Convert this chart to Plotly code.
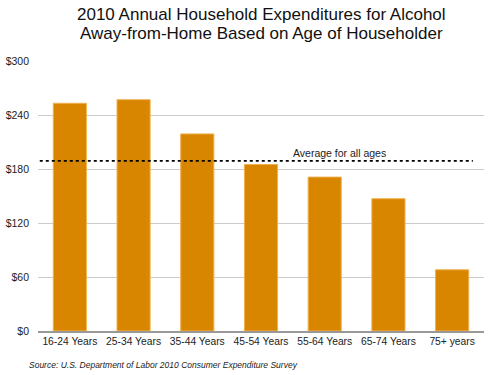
import plotly.graph_objects as go

categories = ["16-24 Years", "25-34 Years", "35-44 Years", "45-54 Years",
              "55-64 Years", "65-74 Years", "75+ years"]
values = [253, 257, 219, 185, 171, 147, 68]
average_all = 189
tick_vals = [0, 60, 120, 180, 240, 300]
tick_text = ["$0", "$60", "$120", "$180", "$240", "$300"]
title_lines = ["2010 Annual Household Expenditures for Alcohol",
               "Away-from-Home Based on Age of Householder"]

fig = go.Figure()
fig.add_trace(go.Bar(
    x=categories, y=values,
    marker=dict(color="#D88600", line=dict(color="#F0B050", width=1)),
    width=0.52,
))
fig.add_shape(type="line", xref="paper", yref="y", x0=0.004, x1=0.975,
              y0=average_all, y1=average_all,
              line=dict(color="black", width=1.6, dash="dot"))
fig.add_annotation(text="Average for all ages", xref="paper", yref="y",
                   x=0.677, y=average_all, yshift=8, showarrow=False,
                   xanchor="center", yanchor="middle",
                   font=dict(size=10.5, color="#222"))
fig.add_annotation(text="<i>Source: U.S. Department of Labor 2010 Consumer Expenditure Survey</i>",
                   xref="paper", yref="paper", x=-0.025, y=-0.1,
                   xanchor="left", yanchor="top", showarrow=False,
                   font=dict(size=8.5, color="#222"))
for line, ypos in zip(title_lines, [1.174, 1.1]):
    fig.add_annotation(text=line, xref="paper", yref="paper", x=0.5, y=ypos,
                       xanchor="center", yanchor="middle", showarrow=False,
                       font=dict(size=17, color="#111"))

fig.update_layout(
    width=488, height=375,
    margin=dict(l=38, r=4, t=61, b=44),
    paper_bgcolor="white", plot_bgcolor="white",
    font=dict(family="Liberation Sans, Arial, sans-serif", color="#222"),
    showlegend=False,
    bargap=0.48,
    xaxis=dict(showgrid=False, showline=True, linecolor="#999", linewidth=1.5,
               ticks="", tickfont=dict(size=10.3, color="#222")),
    yaxis=dict(range=[0, 300], tickvals=tick_vals, ticktext=tick_text,
               showgrid=True, gridcolor="#CCCCCC", gridwidth=1,
               ticklabelstandoff=8,
               zeroline=False, ticks="", tickfont=dict(size=10.5, color="#222")),
)

fig.write_html("out.html", config={"displayModeBar": False},
               post_script="document.body.style.margin='0';document.body.style.overflow='hidden';")
